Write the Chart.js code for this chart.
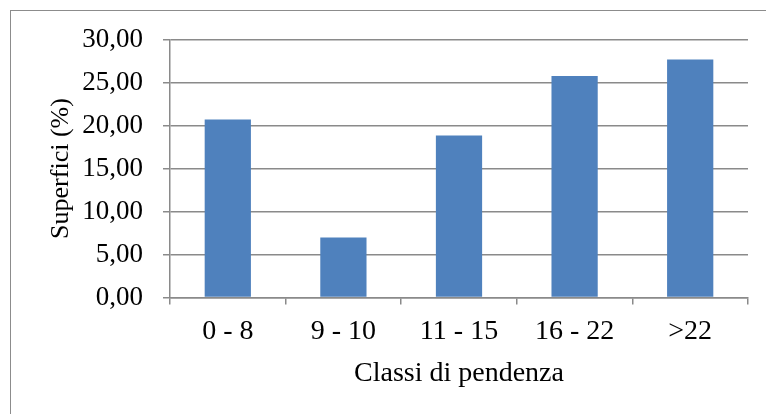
<!DOCTYPE html>
<html>
<head>
<meta charset="utf-8">
<script src="https://cdn.jsdelivr.net/npm/chart.js@4"></script>
<style>
  html, body { margin: 0; padding: 0; background: #fff; overflow: hidden; }
  #wrap { position: relative; width: 766px; height: 414px; }
  #frame { position: absolute; left: 10px; top: 10px; width: 900px; height: 600px; border: 1px solid #8c8c8c; box-sizing: border-box; }
  #c { position: absolute; left: 0; top: 0; }
</style>
</head>
<body>
<div id="wrap">
  <div id="frame"></div>
  <canvas id="c" width="766" height="414"></canvas>
</div>
<script>
const categories = ["0 - 8", "9 - 10", "11 - 15", "16 - 22", ">22"];
const superfici = [20.70, 6.98, 18.85, 25.75, 27.68];
const yMin = 0, yMax = 30, yStep = 5;
const xTitle = "Classi di pendenza";
const yTitle = "Superfici (%)";

const FONT = "'Liberation Serif', 'Times New Roman', serif";
const GRID = "#8a8a8a";

new Chart(document.getElementById('c'), {
  type: 'bar',
  data: {
    labels: categories,
    datasets: [{
      data: superfici,
      backgroundColor: '#4F81BD',
      borderWidth: 0,
      barPercentage: 0.4,
      categoryPercentage: 1.0
    }]
  },
  options: {
    responsive: false,
    animation: false,
    devicePixelRatio: 1,
    layout: { padding: { top: 39.5, right: 18, bottom: 0, left: 0 } },
    plugins: { legend: { display: false }, tooltip: { enabled: false } },
    scales: {
      x: {
        afterFit: (s) => { s.height = 116.5; },
        grid: { display: true, drawOnChartArea: false, drawTicks: true, tickLength: 7, offset: true, color: GRID, lineWidth: 1.5 },
        border: { display: true, color: GRID, width: 1.5 },
        ticks: { color: '#000', font: { family: FONT, size: 28 }, padding: 10.5, maxRotation: 0, autoSkip: false },
        title: { display: true, text: xTitle, color: '#000', font: { family: FONT, size: 28 }, padding: { top: 0, bottom: 24 } }
      },
      y: {
        min: yMin, max: yMax,
        afterFit: (s) => { s.width = 170; },
        grid: { display: true, drawOnChartArea: true, drawTicks: true, tickLength: 7, color: GRID, lineWidth: 1.5 },
        border: { display: true, color: GRID, width: 1.5 },
        ticks: {
          stepSize: yStep,
          color: '#000',
          font: { family: FONT, size: 27 },
          padding: 20,
          callback: (v) => Number(v).toFixed(2).replace('.', ',')
        },
        title: { display: true, text: yTitle, color: '#000', font: { family: FONT, size: 26 }, padding: { top: 46, bottom: 0 } }
      }
    }
  }
});
</script>
</body>
</html>
